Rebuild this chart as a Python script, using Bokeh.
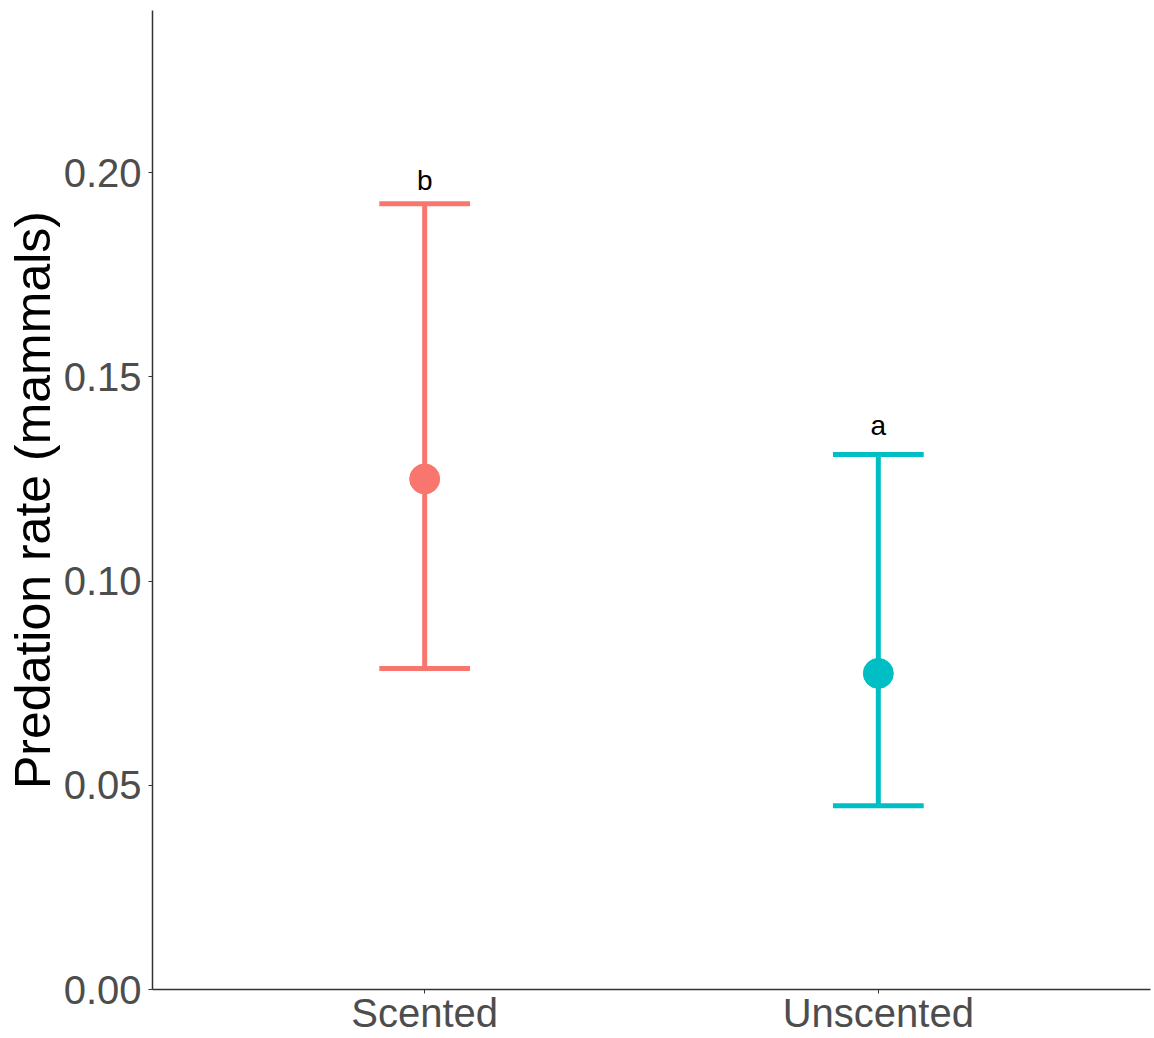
from bokeh.plotting import figure
from bokeh.models import ColumnDataSource, FixedTicker, Range1d
from bokeh.core.properties import value
from bokeh.embed import file_html
from bokeh.resources import INLINE

categories = ["Scented", "Unscented"]
means = [0.125, 0.0774]
lower = [0.0786, 0.0450]
upper = [0.1924, 0.1310]
letters = ["b", "a"]
label_y = [0.1980, 0.1380]
colors = ["#F8766D", "#00BFC4"]

xpos = [i + 1 for i in range(len(categories))]
cap_half = 0.1

src = ColumnDataSource(dict(
    x=xpos, mean=means, lo=lower, hi=upper, col=colors,
    x0=[x - cap_half for x in xpos], x1=[x + cap_half for x in xpos],
    ly=label_y, lab=letters,
))

p = figure(width=1154, height=1038, output_backend="svg", toolbar_location=None,
           x_range=Range1d(0.4, 2.6), y_range=Range1d(0, 0.2397),
           min_border_left=152, min_border_right=4, min_border_top=10, min_border_bottom=49)
p.outline_line_color = None
p.xgrid.visible = False
p.ygrid.visible = False
p.background_fill_color = "white"

p.segment(x0="x", x1="x", y0="lo", y1="hi", line_color="col", line_width=5, source=src)
p.segment(x0="x0", x1="x1", y0="hi", y1="hi", line_color="col", line_width=5, source=src)
p.segment(x0="x0", x1="x1", y0="lo", y1="lo", line_color="col", line_width=5, source=src)
p.scatter(x="x", y="mean", size=30, fill_color="col", line_color="col", source=src)
p.text(x="x", y="ly", text="lab", text_align="center", text_baseline="alphabetic",
       text_font=value("Liberation Sans"), text_font_size="28px", text_color="black", source=src)

p.xaxis.ticker = FixedTicker(ticks=xpos)
p.xaxis.major_label_overrides = {x: c for x, c in zip(xpos, categories)}
p.yaxis.ticker = FixedTicker(ticks=[0.0, 0.05, 0.10, 0.15, 0.20])
p.yaxis.major_label_overrides = {0.0: "0.00", 0.05: "0.05", 0.1: "0.10", 0.15: "0.15", 0.2: "0.20"}

for ax in (p.xaxis[0], p.yaxis[0]):
    ax.axis_line_color = "#333333"
    ax.axis_line_width = 1.5
    ax.major_tick_line_color = "#333333"
    ax.major_tick_in = 0
    ax.major_tick_out = 4
    ax.minor_tick_line_color = None
    ax.major_label_text_font = "Liberation Sans"
    ax.major_label_text_font_size = "40px"
    ax.major_label_text_color = "#4D4D4D"

p.yaxis.major_label_standoff = 7
p.xaxis.major_label_standoff = -3
p.yaxis.axis_label = "Predation rate (mammals)"
p.yaxis.axis_label_text_font = "Liberation Sans"
p.yaxis.axis_label_text_font_size = "50px"
p.yaxis.axis_label_text_font_style = "normal"
p.yaxis.axis_label_text_color = "black"
p.yaxis.axis_label_standoff = 0

open("out.html", "w").write(file_html(p, INLINE))
